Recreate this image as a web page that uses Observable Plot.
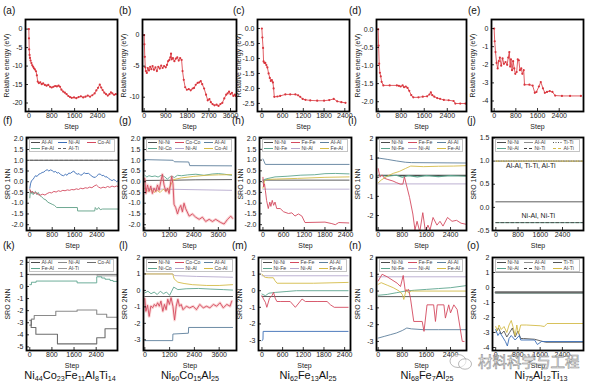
<!DOCTYPE html>
<html><head><meta charset="utf-8">
<script src="https://cdn.jsdelivr.net/npm/d3@7"></script>
<script src="https://cdn.jsdelivr.net/npm/@observablehq/plot@0.6"></script>
<style>
body{margin:0;background:#fff;}
#root{position:relative;width:600px;height:387px;overflow:hidden;background:#fff;font-family:"Liberation Sans",Arial,sans-serif;}
.plt{position:absolute;}
.lab{position:absolute;font-size:10px;color:#111;line-height:1;}
.cmp{position:absolute;font-size:11px;color:#111;transform:translateX(-50%);white-space:nowrap;line-height:1;}
.cmp sub{font-size:7.2px;vertical-align:-2px;line-height:0;}
.leg{position:absolute;background:#fff;border:0.5px solid #c4c4c4;box-sizing:border-box;}
.li{position:absolute;font-size:5.2px;line-height:1;white-space:nowrap;color:#444;display:flex;align-items:center;}
.wm{position:absolute;font-family:"Noto Sans CJK SC",sans-serif;font-size:14.5px;color:rgba(255,255,255,0.55);-webkit-text-stroke:0.6px #8f8f8f;white-space:nowrap;line-height:1;}
</style></head><body><div id="root"></div><script>
// ---------------- DATA ----------------
const compositions = [
  [["Ni",44],["Co",23],["Fe",11],["Al",8],["Ti",14]],
  [["Ni",60],["Co",15],["Al",25]],
  [["Ni",62],["Fe",13],["Al",25]],
  [["Ni",68],["Fe",7],["Al",25]],
  [["Ni",75],["Al",12],["Ti",13]]
];
const panelLetters = ["(a)","(b)","(c)","(d)","(e)","(f)","(g)","(h)","(i)","(j)","(k)","(l)","(m)","(n)","(o)"];
const ticks800 = [0,800,1600,2400];
const ticks900 = [0,900,1800,2700,3600];
const ticks600 = [0,600,1200,1800,2400];
const ticks1200 = [0,1200,2400,3600];

// relative energy [step, eV]
const energyA = [[0,0],[5,-2.5],[12,-5.5],[25,-7],[40,-7.8],[60,-8.5],[90,-9.2],[120,-9.8],[150,-10.2],[180,-10.6],[210,-10.9],[250,-11.4],[280,-12.5],[310,-14.2],[350,-14.6],[400,-14.4],[450,-14.9],[500,-14.7],[560,-15.1],[620,-15.3],[680,-15.1],[740,-15.6],[800,-15.8],[860,-15.6],[920,-15.4],[980,-15.5],[1040,-15.3],[1090,-15.6],[1140,-16.4],[1200,-16.9],[1260,-17.2],[1320,-17.6],[1380,-18.1],[1440,-18.4],[1500,-18.6],[1580,-18.5],[1660,-18.7],[1740,-18.4],[1820,-18.2],[1900,-18.5],[1980,-18.3],[2060,-18.0],[2140,-18.3],[2220,-17.9],[2300,-17.4],[2360,-16.6],[2420,-15.9],[2480,-15.0],[2530,-15.8],[2580,-16.5],[2640,-17.2],[2700,-17.6],[2760,-18.0],[2820,-17.6],[2870,-17.1],[2920,-17.4],[2980,-17.8],[3040,-17.6]];
const energyB = [[0,0],[10,-1.5],[25,-3.5],[45,-5.2],[70,-5.8],[110,-6.1],[150,-5.3],[200,-5.7],[250,-5.1],[300,-5.5],[350,-5.0],[410,-5.6],[470,-5.2],[530,-5.8],[590,-5.1],[650,-5.4],[710,-4.9],[770,-5.3],[830,-5.0],[900,-5.2],[950,-4.8],[1000,-4.2],[1050,-4.0],[1090,-3.6],[1120,-3.0],[1150,-3.9],[1200,-3.7],[1260,-4.2],[1320,-3.8],[1380,-3.6],[1440,-4.1],[1500,-3.7],[1560,-4.0],[1600,-5.8],[1650,-7.2],[1710,-8.4],[1780,-8.8],[1860,-8.7],[1940,-8.9],[2020,-8.6],[2080,-8.5],[2150,-8.0],[2230,-7.7],[2300,-7.6],[2360,-7.4],[2420,-7.9],[2500,-8.6],[2580,-9.6],[2650,-10.5],[2720,-10.3],[2780,-10.8],[2850,-11.1],[2930,-11.3],[3020,-11.2],[3100,-11.4],[3180,-11.1],[3260,-10.9],[3340,-10.2],[3420,-9.6],[3480,-9.4],[3540,-9.1],[3600,-9.5],[3660,-9.3],[3720,-9.8],[3780,-9.6],[3820,-9.8]];
const energyC = [[0,0],[15,-0.3],[35,-0.65],[50,-1.1],[75,-1.15],[100,-1.15],[130,-1.22],[160,-1.3],[195,-1.5],[230,-1.65],[260,-1.75],[290,-1.72],[320,-1.8],[340,-2.0],[360,-2.28],[450,-2.27],[530,-2.25],[680,-2.2],[820,-2.2],[970,-2.2],[1050,-2.23],[1110,-2.28],[1180,-2.35],[1260,-2.38],[1400,-2.4],[1600,-2.41],[1800,-2.41],[1950,-2.39],[2080,-2.35],[2180,-2.43],[2300,-2.46],[2420,-2.48]];
const energyD = [[0,0],[15,-0.45],[35,-0.95],[60,-1.2],[90,-1.3],[120,-1.45],[180,-1.55],[400,-1.55],[650,-1.55],[720,-1.56],[780,-1.58],[850,-1.55],[900,-1.6],[960,-1.58],[1020,-1.62],[1080,-1.7],[1150,-1.82],[1220,-1.88],[1400,-1.88],[1550,-1.86],[1700,-1.85],[1780,-1.8],[1830,-1.74],[1880,-1.82],[1950,-1.86],[2050,-1.9],[2150,-1.92],[2280,-1.95],[2450,-1.96],[2620,-1.98],[2680,-2.05],[2850,-2.05],[3030,-2.05]];
const energyE = [[0,0],[20,-0.7],[50,-1.3],[90,-1.9],[130,-2.2],[170,-1.8],[210,-1.6],[260,-2.05],[310,-1.65],[360,-1.95],[420,-1.85],[480,-2.0],[520,-1.6],[560,-1.3],[590,-2.1],[620,-1.7],[660,-2.3],[700,-1.8],[740,-2.2],[780,-2.5],[830,-2.4],[870,-1.7],[910,-1.75],[950,-2.3],[1000,-2.2],[1040,-2.5],[1090,-2.3],[1120,-3.1],[1300,-3.1],[1420,-3.15],[1500,-3.55],[1560,-3.5],[1650,-3.2],[1720,-2.95],[1800,-3.3],[1870,-3.55],[1950,-3.5],[2050,-3.45],[2150,-3.5],[2250,-3.7],[2500,-3.72],[2800,-3.72],[3200,-3.72]];

// SRO 1NN
const f_AlAl = [[0,1.0],[3150,1.0]];
const f_AlTi = [[0,1.0],[3150,1.0]];
const f_NiAl = [[0,-0.3],[25,-0.1],[60,0.05],[110,0.1],[160,0.2],[200,0.28],[260,0.25],[320,0.35],[380,0.38],[440,0.43],[500,0.45],[560,0.52],[620,0.56],[680,0.5],[740,0.55],[800,0.52],[860,0.45],[920,0.48],[980,0.4],[1030,0.43],[1090,0.35],[1150,0.3],[1210,0.28],[1270,0.35],[1330,0.3],[1390,0.4],[1450,0.39],[1510,0.45],[1570,0.5],[1630,0.4],[1700,0.35],[1760,0.38],[1820,0.3],[1870,0.33],[1940,0.42],[2000,0.38],[2100,0.39],[2180,0.3],[2260,0.22],[2340,0.2],[2400,0.28],[2460,0.35],[2520,0.36],[2580,0.28],[2640,0.3],[2700,0.22],[2760,0.23],[2820,0.15],[2880,0.1],[2940,0.05],[3000,0.1],[3060,0.06],[3110,0.0],[3150,0.05]];
const f_CoAl = [[0,-0.35],[40,-0.5],[100,-0.45],[160,-0.55],[220,-0.5],[300,-0.6],[380,-0.62],[460,-0.58],[540,-0.62],[620,-0.55],[700,-0.5],[780,-0.52],[860,-0.45],[940,-0.48],[1020,-0.42],[1100,-0.45],[1180,-0.4],[1260,-0.42],[1340,-0.38],[1420,-0.4],[1500,-0.36],[1580,-0.38],[1660,-0.33],[1740,-0.36],[1820,-0.3],[1900,-0.33],[1980,-0.28],[2060,-0.3],[2140,-0.25],[2220,-0.28],[2300,-0.2],[2380,-0.15],[2460,-0.25],[2540,-0.3],[2620,-0.25],[2700,-0.28],[2780,-0.22],[2860,-0.26],[2940,-0.2],[3020,-0.24],[3100,-0.2],[3150,-0.22]];
const f_FeAl = [[0,-0.75],[20,-0.4],[50,-0.55],[80,-0.45],[120,-0.6],[160,-0.5],[200,-0.45],[250,-0.6],[300,-0.5],[360,-0.65],[420,-0.7],[500,-0.8],[580,-0.85],[640,-0.95],[720,-1.0],[800,-1.05],[880,-1.1],[960,-1.2],[1700,-1.2],[1710,-1.36],[2320,-1.36],[2340,-1.2],[2400,-1.3],[2460,-1.2],[2520,-1.3],[2600,-1.27],[3150,-1.27]];

const g_NiNi = [[0,0.06],[1300,0.07],[2500,0.09],[4250,0.1]];
const g_CoCo = [[0,0.15],[50,-0.55],[130,-0.15],[210,-0.45],[290,-0.2],[370,-0.55],[450,-0.3],[540,-0.45],[620,-0.15],[700,-0.4],[780,0.0],[860,0.35],[940,-0.15],[1030,-0.45],[1110,-0.3],[1190,-0.55],[1270,0.0],[1320,0.25],[1380,-0.1],[1430,-1.05],[1510,-1.2],[1600,-1.5],[1680,-1.25],[1760,-1.1],[1840,-1.4],[1920,-1.0],[2000,-1.25],[2170,-1.6],[2330,-1.5],[2490,-1.65],[2660,-1.75],[2820,-1.65],[2980,-1.85],[3150,-1.75],[3310,-1.85],[3470,-1.75],[3720,-1.9],[3880,-1.97],[4050,-1.75],[4210,-1.6],[4290,-1.7]];
const g_AlAl = [[0,1.03],[1380,1.0],[1450,0.93],[2150,0.92],[2200,0.75],[4250,0.74]];
const g_NiCo = [[0,0.3],[100,0.22],[200,0.28],[350,0.24],[500,0.27],[650,0.22],[800,0.3],[950,0.25],[1100,0.12],[1200,0.2],[1300,0.26],[1450,0.2],[1600,0.3],[1800,0.28],[2100,0.32],[2500,0.35],[2900,0.3],[3300,0.36],[3600,0.38],[3900,0.35],[4250,0.3]];
const g_NiAl = [[0,-0.33],[4250,-0.4]];
const g_CoAl = [[0,-0.3],[150,-0.45],[300,-0.35],[450,-0.5],[600,-0.4],[750,-0.5],[900,-0.35],[1050,-0.45],[1200,-0.3],[1320,-0.05],[1400,0.1],[1800,0.18],[2400,0.25],[3000,0.3],[3600,0.32],[4250,0.33]];

const h_NiNi = [[0,0.07],[2500,0.07]];
const h_FeFe = [[0,0.2],[20,-0.25],[45,-0.1],[70,-0.4],[105,-0.87],[155,-1.25],[200,-0.95],[230,-1.15],[270,-0.87],[310,-1.1],[350,-0.95],[400,-1.25],[500,-1.25],[600,-1.4],[740,-1.48],[840,-1.45],[930,-1.6],[1030,-1.5],[1130,-1.6],[1220,-1.9],[1800,-1.88],[2000,-1.95],[2100,-2.0],[2200,-1.9],[2490,-1.92]];
const h_AlAl = [[0,1.05],[30,0.95],[70,0.8],[2500,0.8]];
const h_NiFe = [[0,-0.05],[40,0.1],[150,0.15],[350,0.22],[700,0.25],[1100,0.3],[1500,0.32],[1800,0.37],[2100,0.38],[2500,0.36]];
const h_NiAl = [[0,-0.35],[2500,-0.35]];
const h_FeAl = [[0,-0.3],[50,0.05],[100,0.1],[400,0.12],[1000,0.15],[1800,0.2],[2500,0.22]];

const i_NiNi = [[0,0.1],[2900,0.1]];
const i_FeFe = [[0,0.45],[60,0.0],[130,0.12],[210,-0.06],[320,-0.12],[490,-0.2],[600,-0.28],[730,-0.36],[820,-0.36],[870,0.02],[930,-0.36],[1040,-1.05],[1150,-1.92],[1220,-2.75],[1290,-2.3],[1380,-2.85],[1480,-1.85],[1570,-2.85],[1650,-2.5],[1720,-2.75],[1820,-2.1],[1950,-2.5],[2050,-2.3],[2150,-2.55],[2300,-2.1],[2450,-2.3],[2600,-2.25],[2750,-2.4],[2900,-2.45]];
const i_AlAl = [[0,1.0],[300,0.93],[600,0.85],[900,0.78],[1100,0.76],[2900,0.74]];
const i_NiFe = [[0,0.1],[300,0.05],[600,0.1],[800,0.0],[1000,0.08],[1300,0.02],[1600,0.08],[2000,0.03],[2400,0.08],[2900,0.05]];
const i_NiAl = [[0,-0.35],[2900,-0.35]];
const i_FeAl = [[0,-0.3],[100,-0.15],[300,0.05],[500,0.2],[700,0.3],[900,0.45],[1080,0.58],[1500,0.55],[2000,0.57],[2500,0.58],[2900,0.6]];

const j_NiNi = [[0,0.12],[3150,0.12]];
const j_AlAl = [[0,1.0],[3150,1.0]];
const j_TiTi = [[0,1.0],[3150,1.0]];
const j_NiAl = [[0,-0.33],[3150,-0.33]];
const j_NiTi = [[0,-0.33],[3150,-0.33]];
const j_AlTi = [[0,1.0],[3150,1.0]];
const j_notes = [{x:1260,y:0.89,text:"Al-Al, Ti-Ti, Al-Ti"},{x:1530,y:-0.19,text:"Ni-Al, Ni-Ti"}];

// SRO 2NN
const k_AlAl = [[0,1.0],[3150,1.0]];
const k_AlTi = [[0,0.97],[2420,0.97],[2430,0.88],[3150,0.88]];
const k_FeAl = [[0,0.15],[60,0.35],[230,0.45],[1710,0.3],[2420,0.8],[2600,0.7],[2720,0.6],[2900,0.5],[3010,0.42],[3150,0.42]];
const k_NiAl = [[0,-3.2],[60,-2.7],[160,-2.4],[940,-2.05],[1710,-1.95],[2420,-2.3],[2780,-2.55],[3150,-2.55]];
const k_CoAl = [[0,-2.8],[50,-3.4],[220,-3.95],[1000,-4.75],[2420,-4.25],[2720,-3.5],[3150,-3.5]];

const l_NiNi = [[0,-0.37],[4250,-0.37]];
const l_CoCo = [[0,-0.5],[50,-1.27],[130,-0.9],[210,-1.58],[290,-0.95],[380,-1.05],[460,-0.85],[540,-0.96],[620,-0.75],[700,-0.96],[780,-0.65],[870,-1.27],[950,-0.85],[1030,-1.17],[1110,-0.54],[1190,-0.85],[1270,-0.44],[1360,-0.96],[1440,-1.8],[1520,-0.96],[1600,-0.54],[1680,-0.96],[1760,-0.85],[1850,-1.17],[2010,-0.96],[2170,-1.06],[2340,-0.96],[2500,-1.17],[2660,-0.85],[2830,-1.06],[2990,-0.96],[3150,-1.06],[3320,-0.85],[3480,-0.96],[3640,-0.75],[3800,-1.06],[3970,-0.85],[4130,-0.96],[4210,-0.65]];
const l_AlAl = [[0,-3.05],[1350,-3.05],[1360,-2.65],[2110,-2.6],[2120,-2.25],[4250,-2.25]];
const l_NiCo = [[0,-0.15],[150,-0.05],[300,-0.2],[450,-0.1],[600,-0.25],[750,-0.05],[900,-0.2],[1050,-0.1],[1200,-0.3],[1300,-0.05],[1400,0.2],[1600,0.05],[2000,0.1],[2600,0.12],[3200,0.08],[3800,0.05],[4250,0.02]];
const l_NiAl = [[0,1.0],[1350,1.0],[1450,0.9],[2500,0.85],[4250,0.8]];
const l_CoAl = [[0,1.0],[1350,1.0],[1420,0.7],[1600,0.5],[1900,0.42],[2300,0.35],[3000,0.3],[3600,0.3],[4250,0.35]];

const m_NiNi = [[0,-0.35],[2500,-0.35]];
const m_FeFe = [[0,-0.3],[45,-0.5],[100,-0.7],[142,-1.0],[220,-0.45],[290,-0.3],[337,-0.1],[385,-0.45],[434,-0.65],[530,-0.65],[820,-0.65],[970,-1.0],[1164,-0.5],[1260,-0.65],[1600,-0.65],[1890,-0.65],[1990,-0.85],[2100,-1.0],[2500,-1.0]];
const m_AlAl = [[0,-3.0],[30,-2.95],[35,-2.45],[2500,-2.45]];
const m_NiFe = [[0,-0.2],[100,-0.3],[200,-0.15],[400,-0.1],[700,-0.05],[1000,0.0],[2500,0.0]];
const m_NiAl = [[0,0.9],[2500,0.9]];
const m_FeAl = [[0,1.0],[60,0.85],[100,0.8],[200,0.78],[330,0.78],[380,0.6],[440,0.45],[1500,0.45],[2500,0.5]];

const n_NiNi = [[0,-0.33],[2900,-0.33]];
const n_FeFe = [[0,0.6],[130,1.0],[300,0.85],[630,0.47],[740,0.27],[830,0.93],[900,-0.02],[1010,0.1],[1070,-0.42],[1180,-1.81],[1460,-1.81],[1520,-2.4],[1620,-0.82],[1840,-0.82],[1900,-1.81],[1960,-0.82],[2180,-0.82],[2230,-1.61],[2340,-0.82],[2400,-1.3],[2510,-0.82],[2620,-1.1],[2790,-3.0],[2850,-3.0]];
const n_AlAl = [[0,-2.8],[200,-2.7],[400,-2.6],[600,-2.5],[800,-2.35],[950,-2.2],[1100,-2.25],[1500,-2.3],[2000,-2.3],[2900,-2.3]];
const n_NiFe = [[0,-0.25],[300,-0.2],[600,-0.1],[900,0.0],[1200,0.05],[1600,0.1],[2000,0.15],[2400,0.2],[2900,0.32]];
const n_NiAl = [[0,0.85],[2900,0.85]];
const n_FeAl = [[0,0.4],[100,0.5],[300,0.35],[500,0.2],[700,0.0],[800,-0.2],[850,-0.5],[930,0.1],[1000,-0.1],[1100,0.0],[2900,0.0]];

const o_NiNi = [[0,-0.33],[3150,-0.33]];
const o_AlAl = [[0,1.0],[3150,1.0]];
const o_TiTi = [[0,-3.0],[100,-2.7],[200,-3.1],[300,-2.9],[400,-3.3],[500,-3.0],[600,-2.7],[700,-3.3],[800,-2.9],[900,-3.4],[1000,-3.4],[1400,-3.45],[1600,-3.55],[1800,-3.65],[3150,-3.65]];
const o_NiAl = [[0,-0.37],[3150,-0.37]];
const o_NiTi = [[0,-2.8],[80,-3.2],[150,-3.0],[250,-3.3],[350,-3.6],[420,-3.9],[480,-3.4],[560,-3.2],[700,-3.5],[850,-3.2],[900,-3.5],[1400,-3.5],[1500,-3.8],[1650,-3.6],[3150,-3.6]];
const o_AlTi = [[0,-2.6],[60,-2.9],[120,-2.5],[200,-2.8],[300,-2.6],[400,-3.0],[480,-2.5],[560,-2.2],[620,-2.6],[700,-3.2],[760,-2.5],[820,-3.1],[900,-2.5],[1100,-2.5],[1600,-2.55],[1750,-2.6],[1850,-2.4],[3150,-2.4]];

// ---------------- STYLE ----------------
const FONT = "'Liberation Sans', Arial, Helvetica, sans-serif";
const C = {dark:"#4b4b4b", gray:"#8e8e8e", red:"#d4495f", steel:"#5d7f9c", teal:"#5ea58e", lav:"#b5a9cd", yel:"#d4bb48", blue:"#3b6db6", green:"#5f9f86", ered:"#d9363e"};
const root = document.getElementById("root");
const fmt = n => d => (d < 0 ? "-" : "") + Math.abs(d).toFixed(n);

function panel(p) {
  const ml = 26, mr = 2, mt = 2, mb = 20;
  const [L,T,R,B] = p.box;
  const w = R - L, h = B - T;
  const [x0,x1] = p.xDomain, [y0,y1] = p.yDomain;
  const tly = (y1 - y0) * 3 / h, tlx = (x1 - x0) * 3 / w;
  const marks = [];
  for (const s of p.series) {
    if (s.halo) marks.push(Plot.line(s.data, {x: d => d[0], y: d => d[1], stroke: s.halo, strokeWidth: 2.8, strokeOpacity: 0.35, curve: s.curve || "linear", clip: true}));
    marks.push(Plot.line(s.data, {x: d => d[0], y: d => d[1], stroke: s.color, strokeWidth: s.width || 0.9, strokeDasharray: s.dash, curve: s.curve || "linear", clip: true}));
    if (s.dots) marks.push(Plot.dot(s.data, {x: d => d[0], y: d => d[1], r: 1.1, fill: s.color, stroke: "none", clip: true}));
  }
  if (p.notes) marks.push(Plot.text(p.notes, {x: "x", y: "y", text: "text", fontSize: 7, fill: "#222", lineAnchor: "middle"}));
  marks.push(Plot.ruleX(p.xTicks, {x: d => d, y1: y0, y2: y0 + tly, stroke: "#000", strokeWidth: 0.8}));
  marks.push(Plot.ruleY(p.yTicks, {y: d => d, x1: x0, x2: x0 + tlx, stroke: "#000", strokeWidth: 0.8}));
  marks.push(Plot.frame({stroke: "#000", strokeWidth: 1.8}));
  marks.push(Plot.axisX({ticks: p.xTicks, tickSize: 0, tickPadding: 2, tickFormat: d => String(d), label: "Step", labelAnchor: "center", labelArrow: "none", labelOffset: 17}));
  marks.push(Plot.axisY({ticks: p.yTicks, tickSize: 0, tickPadding: 3, tickFormat: p.yFmt || fmt(0), label: p.yLabel, labelAnchor: "center", labelArrow: "none", labelOffset: 21}));
  const svg = Plot.plot({
    width: w + ml + mr, height: h + mt + mb,
    marginLeft: ml, marginRight: mr, marginTop: mt, marginBottom: mb,
    x: {domain: p.xDomain}, y: {domain: p.yDomain},
    style: {fontSize: "7px", fontFamily: FONT, color: "#1a1a1a", background: "transparent", overflow: "visible"},
    marks
  });
  svg.classList.add("plt");
  svg.style.left = (L - ml) + "px";
  svg.style.top = (T - mt) + "px";
  root.appendChild(svg);
  if (p.legend) legend(p.box, p.legend);
}

function legend(box, items) {
  const [L,T,R] = box;
  const div = document.createElement("div");
  div.className = "leg";
  div.style.left = (L + 3) + "px"; div.style.top = (T + 1.5) + "px";
  div.style.width = (R - L - 6) + "px"; div.style.height = "13.5px";
  const cols = [1, 28, 57];
  items.forEach((it, i) => {
    const e = document.createElement("div");
    e.className = "li";
    e.style.left = cols[i % 3] + "px";
    e.style.top = (Math.floor(i / 3) * 6.5 + 0.4) + "px";
    e.innerHTML = `<svg width="9" height="5"><line x1="0" x2="9" y1="2.5" y2="2.5" stroke="${it[1]}" stroke-width="1"${it[2] ? ` stroke-dasharray="${it[2]}"` : ""}/></svg><span style="margin-left:1.5px">${it[0]}</span>`;
    div.appendChild(e);
  });
  root.appendChild(div);
}

const E = "Relative energy (eV)", S1 = "SRO 1NN", S2 = "SRO 2NN";
const en = d => [{data: d, color: C.ered, width: 0.8, dots: true}];
const legCo = [["Ni-Ni",C.dark],["Co-Co",C.red],["Al-Al",C.steel],["Ni-Co",C.teal],["Ni-Al",C.lav],["Co-Al",C.yel]];
const legFe = [["Ni-Ni",C.dark],["Fe-Fe",C.red],["Al-Al",C.steel],["Ni-Fe",C.teal],["Ni-Al",C.lav],["Fe-Al",C.yel]];

const panels = [
  {box:[25,19,117,111], xDomain:[-117,3100], xTicks:ticks800, yDomain:[-22.3,2.6], yTicks:[0,-5,-10,-15,-20], yLabel:E, series:en(energyA)},
  {box:[142,19,236,111], xDomain:[-70,3850], xTicks:ticks900, yDomain:[-12.3,2.5], yTicks:[0,-5,-10], yLabel:E, series:en(energyB)},
  {box:[257,19,349,111], xDomain:[-126,2536], xTicks:ticks600, yDomain:[-2.77,0.3], yTicks:[0,-0.5,-1,-1.5,-2,-2.5], yFmt:fmt(1), yLabel:E, series:en(energyC)},
  {box:[376,19,466,111], xDomain:[-58,3068], xTicks:ticks800, yDomain:[-2.27,0.27], yTicks:[0,-0.5,-1,-1.5,-2], yFmt:fmt(1), yLabel:E, series:en(energyD)},
  {box:[491,19,583,111], xDomain:[-98,3296], xTicks:ticks800, yDomain:[-4.58,0.5], yTicks:[0,-1,-2,-3,-4], yLabel:E, series:en(energyE)},

  {box:[26,137,118,230], xDomain:[-119,3171], xTicks:ticks800, yDomain:[-2.27,2.06], yTicks:[2,1.5,1,0.5,0,-0.5,-1,-1.5,-2], yFmt:fmt(1), yLabel:S1,
   series:[{data:f_AlAl,color:C.dark},{data:f_AlTi,color:"#666",dash:"3,2"},{data:f_FeAl,color:C.green},{data:f_CoAl,color:C.red},{data:f_NiAl,color:C.blue}],
   legend:[["Al-Al",C.dark],["Ni-Al",C.blue],["Co-Al",C.red],["Fe-Al",C.green],["Al-Ti","#666","3,2"]]},
  {box:[143,137,235,230], xDomain:[-65,4440], xTicks:ticks1200, yDomain:[-2.27,2.06], yTicks:[2,1.5,1,0.5,0,-0.5,-1,-1.5,-2], yFmt:fmt(1), yLabel:S1,
   series:[{data:g_NiAl,color:C.lav},{data:g_NiNi,color:C.dark},{data:g_NiCo,color:C.teal},{data:g_AlAl,color:C.steel},{data:g_CoAl,color:C.yel},{data:g_CoCo,color:C.red,halo:"#f08a8a"}],
   legend:legCo},
  {box:[259,137,351,230], xDomain:[-100,2570], xTicks:ticks600, yDomain:[-2.27,2.05], yTicks:[2,1.5,1,0.5,0,-0.5,-1,-1.5,-2], yFmt:fmt(1), yLabel:S1,
   series:[{data:h_NiAl,color:C.lav},{data:h_NiNi,color:C.dark},{data:h_FeAl,color:C.yel},{data:h_NiFe,color:C.teal},{data:h_AlAl,color:C.steel},{data:h_FeFe,color:C.red}],
   legend:legFe},
  {box:[376,137,466,230], xDomain:[-56,2930], xTicks:ticks800, yDomain:[-2.78,2.07], yTicks:[2,1,0,-1,-2], yLabel:S1,
   series:[{data:i_NiAl,color:C.lav},{data:i_NiNi,color:C.dark,width:1.3},{data:i_NiFe,color:C.teal,width:1.2},{data:i_FeAl,color:C.yel},{data:i_AlAl,color:C.steel},{data:i_FeFe,color:C.red}],
   legend:legFe},
  {box:[492,137,583,230], xDomain:[-120,3156], xTicks:ticks800, yDomain:[-0.5,1.51], yTicks:[1.5,1,0.5,0,-0.5], yFmt:fmt(1), yLabel:S1,
   series:[{data:j_AlAl,color:C.gray},{data:j_TiTi,color:"#555",dash:"1,1.5"},{data:j_AlTi,color:C.yel,dash:"3,2"},{data:j_NiNi,color:C.dark},{data:j_NiAl,color:C.teal},{data:j_NiTi,color:"#444",dash:"3,2"}],
   notes:j_notes,
   legend:[["Ni-Ni",C.dark],["Al-Al",C.gray],["Ti-Ti","#555","1,1.5"],["Ni-Al",C.teal],["Ni-Ti","#444","3,2"],["Al-Ti",C.yel,"3,2"]]},

  {box:[26,257,117,350], xDomain:[-119,3171], xTicks:ticks800, yDomain:[-5.3,2.4], yTicks:[2,1,0,-1,-2,-3,-4,-5], yLabel:S2,
   series:[{data:k_AlAl,color:"#6b6b6b",curve:"step-after"},{data:k_AlTi,color:"#9a9a9a",curve:"step-after"},{data:k_FeAl,color:C.teal,curve:"step-after"},{data:k_NiAl,color:"#8a8a8a",curve:"step-after",width:1.1},{data:k_CoAl,color:"#6e6e6e",curve:"step-after",width:1.1}],
   legend:[["Al-Al",C.dark],["Ni-Al","#8a8a8a"],["Co-Al","#6e6e6e"],["Fe-Al",C.teal],["Al-Ti","#9a9a9a"]]},
  {box:[143,257,236,350], xDomain:[-65,4440], xTicks:ticks1200, yDomain:[-3.65,2.0], yTicks:[2,1,0,-1,-2,-3], yLabel:S2,
   series:[{data:l_NiAl,color:C.lav},{data:l_CoAl,color:C.yel},{data:l_NiNi,color:C.dark},{data:l_NiCo,color:C.teal},{data:l_AlAl,color:C.steel},{data:l_CoCo,color:C.red,halo:"#f08a8a"}],
   legend:legCo},
  {box:[258,257,350,350], xDomain:[-100,2570], xTicks:ticks600, yDomain:[-3.6,2.0], yTicks:[2,1,0,-1,-2,-3], yLabel:S2,
   series:[{data:m_NiAl,color:C.lav},{data:m_FeAl,color:C.yel},{data:m_NiFe,color:C.teal},{data:m_NiNi,color:C.dark},{data:m_AlAl,color:C.blue},{data:m_FeFe,color:C.red}],
   legend:legFe},
  {box:[376,257,466,350], xDomain:[-56,2930], xTicks:ticks800, yDomain:[-3.54,2.0], yTicks:[2,1,0,-1,-2,-3], yLabel:S2,
   series:[{data:n_NiAl,color:C.lav},{data:n_NiNi,color:C.dark},{data:n_NiFe,color:C.teal},{data:n_FeAl,color:C.yel},{data:n_AlAl,color:C.steel},{data:n_FeFe,color:C.red}],
   legend:legFe},
  {box:[492,257,583,350], xDomain:[-115,3160], xTicks:ticks800, yDomain:[-4.2,2.0], yTicks:[2,1,0,-1,-2,-3,-4], yLabel:S2,
   series:[{data:o_AlAl,color:C.gray},{data:o_NiAl,color:C.teal},{data:o_NiNi,color:"#6a6a6a",width:2.2},{data:o_TiTi,color:"#555"},{data:o_NiTi,color:C.blue},{data:o_AlTi,color:C.yel}],
   legend:[["Ni-Ni",C.dark],["Al-Al",C.gray],["Ti-Ti","#555"],["Ni-Al",C.teal],["Ni-Ti","#444","3,2"],["Al-Ti",C.yel]]}
];

panels.forEach(panel);

// panel letters
const letterPos = [[3,6],[119,6],[233,6],[349,6],[468,6],[3,116],[119,116],[232,116],[348,116],[467,116],[3,241],[119,241],[232,241],[349,241],[467,241]];
panelLetters.forEach((t, i) => {
  const d = document.createElement("div");
  d.className = "lab"; d.textContent = t;
  d.style.left = letterPos[i][0] + "px"; d.style.top = letterPos[i][1] + "px";
  root.appendChild(d);
});
// composition labels
const compX = [70, 190, 308, 427, 541];
compositions.forEach((c, i) => {
  const d = document.createElement("div");
  d.className = "cmp";
  d.innerHTML = c.map(([el, n]) => `${el}<sub>${n}</sub>`).join("");
  d.style.left = compX[i] + "px"; d.style.top = "370px";
  root.appendChild(d);
});
// watermark
const wm = document.createElement("div");
wm.className = "wm"; wm.textContent = "材料科学与工程";
wm.style.left = "478px"; wm.style.top = "354px";
root.appendChild(wm);
const icon = document.createElementNS("http://www.w3.org/2000/svg", "svg");
icon.setAttribute("width", "26"); icon.setAttribute("height", "20");
icon.style.position = "absolute"; icon.style.left = "448px"; icon.style.top = "352px";
icon.innerHTML = '<ellipse cx="10" cy="9" rx="8" ry="6.5" fill="rgba(255,255,255,0.6)" stroke="#999" stroke-width="0.7"/><ellipse cx="17" cy="12" rx="6.5" ry="5.2" fill="rgba(255,255,255,0.6)" stroke="#999" stroke-width="0.7"/>';
root.appendChild(icon);
</script></body></html>
